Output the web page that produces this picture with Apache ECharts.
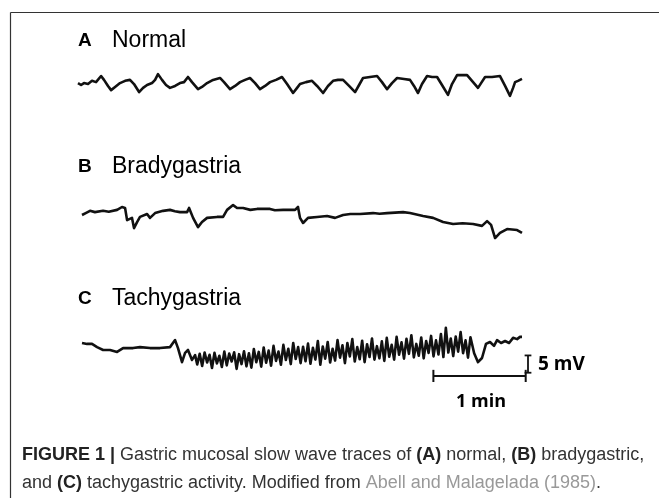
<!DOCTYPE html>
<html><head><meta charset="utf-8">
<script src="https://cdn.jsdelivr.net/npm/echarts@6/dist/echarts.min.js"></script>
<style>html,body{margin:0;padding:0;background:#fff;}#c{width:659px;height:498px;}</style>
</head><body><div id="c"></div>
<script>
// Panel titles
const panelLetters = ['A', 'B', 'C'];
const panelNames = ['Normal', 'Bradygastria', 'Tachygastria'];

// Trace A (normal): [time s, mV]
const traceA = [[0,0.6],[2.0,0],[3.9,0.6],[6.5,0.3],[9.1,1.3],[11.7,0.9],[15.0,2.8],[16.9,1.6],[19.5,-0.3],[21.5,-1.6],[24.1,-0.6],[27.3,0.6],[30.6,1.3],[33.8,1.6],[36.4,0.3],[39.7,-2.2],[42.3,-0.9],[44.9,0],[48.1,0.6],[50.1,1.6],[52.0,3.4],[54.6,1.6],[57.2,0],[59.8,-0.9],[63.1,-0.3],[66.3,0.6],[68.9,0.9],[71.5,2.5],[74.1,0.9],[78.0,-1.3],[80.6,-0.6],[83.9,0.6],[87.8,1.6],[92.3,2.2],[94.9,0.9],[98.8,-1.3],[102.1,-0.3],[105.3,0.9],[108.6,1.6],[111.8,2.2],[115.1,0.6],[118.3,-1.3],[121.6,-0.3],[124.8,0.9],[128.7,1.6],[132.6,2.5],[135.9,0.3],[139.8,-2.5],[142.4,-0.9],[144.3,0.3],[148.2,0.9],[152.1,1.3],[155.4,-0.3],[159.3,-2.5],[162.5,-0.3],[165.8,1.3],[169.0,1.6],[172.3,1.6],[176.2,-0.3],[180.1,-2.2],[182.7,0],[185.3,2.2],[189.8,2.5],[194.4,2.8],[197.6,0.9],[200.9,-1.3],[204.1,0.6],[207.4,2.2],[211.9,1.9],[215.8,1.6],[218.4,-0.3],[221.0,-2.5],[223.6,0.3],[226.9,2.8],[230.1,2.5],[233.4,2.5],[236.6,0],[240.5,-3.1],[243.1,0.3],[246.4,3.1],[249.6,3.1],[252.9,3.1],[256.1,1.3],[260.0,-0.9],[262.0,0.6],[264.6,2.5],[269.1,2.5],[274.3,2.8],[277.6,-0.3],[280.8,-3.4],[282.8,-0.9],[284.1,0.9],[286.0,1.3],[288.6,1.9]];

// Trace B (bradygastria): [time s, mV]
const traceB = [[2.6,0],[5.0,0.6],[7.8,1.3],[11.0,0.9],[16.3,1.3],[20.0,1.0],[25.4,1.6],[28.6,2.5],[30.6,2.2],[31.9,-1.6],[35.1,-0.9],[36.4,-4.1],[38.4,-2.2],[40.3,-0.6],[44.9,0.3],[46.8,-0.9],[50.1,0.6],[55.3,1.3],[59.8,1.6],[63.0,1.2],[66.3,0.9],[70.9,0.9],[72.2,2.2],[74.8,-0.9],[78.0,-3.8],[80.6,-2.2],[83.9,-0.9],[90.4,-0.6],[94.3,-0.6],[96.9,1.6],[100.8,3.1],[103.4,2.2],[107.3,2.2],[112.0,1.6],[116.4,1.9],[124.8,1.9],[128.0,1.5],[133.3,1.6],[141.1,1.6],[143.0,2.5],[144.3,-0.9],[146.3,-2.5],[149.5,-0.9],[155.4,-0.6],[161.9,-0.3],[167.1,-0.9],[172.3,0],[177.0,0.3],[183.3,0.3],[191.8,0.6],[196.0,0.4],[200.9,0.6],[211.3,0.9],[215.8,0.6],[224.3,-0.3],[230.8,-0.9],[237.3,-2.2],[243.8,-2.8],[250.0,-2.6],[256.8,-2.8],[262.6,-3.4],[265.9,-1.9],[268.5,-3.1],[271.1,-7.2],[274.3,-5.6],[278.9,-4.4],[285.4,-4.7],[288.6,-5.6]];

// Trace C (tachygastria): [time s, mV]
const traceC = [[2.6,2.2],[5.9,1.9],[9.1,1.9],[12.4,0.9],[16.3,0],[20.8,0],[25.4,-0.6],[29.3,0.6],[35.8,0.6],[40.3,0.9],[46.8,0.6],[53.3,0.6],[59.8,0.9],[63.1,3.1],[65.0,0.6],[67.6,-3.8],[69.6,-0.9],[71.5,0],[74.1,-3.1],[76.1,-1.6],
[77.5,-4.5],[79.1,-1.2],[80.7,-5.0],[82.3,-0.8],[83.9,-3.9],[85.5,-1.5],[87.1,-5.6],[88.7,-0.9],[90.3,-4.2],[91.9,-1.8],[93.5,-5.3],[95.1,-0.5],[96.7,-4.8],[98.3,-1.1],[99.9,-3.6],[101.5,-0.7],[103.1,-5.9],[104.7,-1.3],[106.3,-4.4],[107.9,-0.4],[109.5,-5.1],
[111.1,-1.0],[112.7,-5.5],[114.3,0.3],[115.9,-3.8],[117.5,-0.6],[119.1,-5.2],[120.7,0.8],[122.3,-4.0],[123.9,-0.2],[125.5,-4.9],[127.1,1.3],[128.7,-3.4],[130.3,-0.5],[131.9,-4.6],[133.5,1.6],[135.1,-3.1],[136.7,0.4],[138.3,-4.4],[139.9,2.2],[141.5,-2.8],[143.1,0.9],[144.7,-4.1],[146.3,1.0],[147.9,-3.5],
[149.5,2.0],[151.1,-4.3],[152.7,0.7],[154.3,-3.0],[155.9,2.8],[157.5,-4.6],[159.1,1.1],[160.7,-2.7],[162.3,2.5],[163.9,-3.9],[165.5,0.4],[167.1,-3.3],[168.7,3.1],[170.3,-2.4],[171.9,1.5],[173.5,-4.1],[175.1,2.2],[176.7,-2.0],[178.3,3.4],[179.9,-3.6],[181.5,0.9],[183.1,-2.9],[184.7,2.9],[186.3,-3.8],[187.9,1.8],[189.5,-2.2],[191.1,3.6],[192.7,-3.0],[194.3,1.2],[195.9,-2.6],[197.5,2.7],[199.1,-3.4],
[200.7,3.8],[202.3,-2.1],[203.9,1.6],[205.5,-3.0],[207.1,4.1],[208.7,-1.5],[210.3,2.4],[211.9,-2.7],[213.5,3.5],[215.1,-1.2],[216.7,4.6],[218.3,-2.3],[219.9,1.9],[221.5,-1.8],[223.1,3.9],[224.7,-2.6],[226.3,2.8],[227.9,-0.9],[229.5,4.4],[231.1,-2.0],[232.7,3.0],[234.3,-1.4],[235.9,5.0],[237.5,-2.2],[239.1,6.9],[240.7,-0.8],[242.3,3.6],[243.9,-1.9],[245.5,4.2],[247.1,-0.5],[248.7,5.6],[250.3,-1.0],[251.9,3.0],[253.5,-2.4],[255.1,4.0],
[257.5,-1.0],[260.0,-3.8],[262.6,-2.5],[265.2,1.9],[267.8,2.5],[270.4,1.3],[272.4,3.1],[275.0,2.2],[277.6,2.8],[280.2,2.2],[282.8,3.8],[285.4,3.4],[287.3,4.1],[288.6,4.1]];

// Scale bars (drawn in panel C units)
const timeBar = [231, 291];       // 1 min
const timeBarLevel = -8.1;        // mV position of the time bar
const voltBarTime = 292.5;        // s position of the voltage bar
const voltBar = [-1.7, -7.1];     // 5 mV
const scaleLabels = ['5 mV', '1 min'];

// Caption
const captionBold = 'FIGURE 1 |';

const chart = echarts.init(document.getElementById('c'), null, {renderer: 'canvas'});

const gridTops = [45, 175, 310];
const grids = gridTops.map(t => ({left: 78, width: 460, top: t, height: 80}));
const xAxes = grids.map((g, i) => ({gridIndex: i, type: 'value', min: 0, max: 299, show: false}));
const yAxes = grids.map((g, i) => ({gridIndex: i, type: 'value', min: -12.5, max: 12.5, show: false}));

const traceStyle = {color: '#111', width: 2.6, join: 'round'};
function lineSeries(data, idx, style) {
  return {type: 'line', data: data, xAxisIndex: idx, yAxisIndex: idx, showSymbol: false,
    symbol: 'none', lineStyle: style, animation: false, clip: false, silent: true, z: 3};
}
const barStyle = {color: '#111', width: 1.8};
const capHalf = 2.2, tickHalf = 1.9;
const series = [
  lineSeries(traceA, 0, traceStyle),
  lineSeries(traceB, 1, traceStyle),
  lineSeries(traceC, 2, traceStyle),
  lineSeries([[timeBar[0], timeBarLevel], [timeBar[1], timeBarLevel]], 2, {color: '#111', width: 2}),
  lineSeries([[timeBar[0], timeBarLevel - tickHalf], [timeBar[0], timeBarLevel + tickHalf]], 2, {color: '#111', width: 2}),
  lineSeries([[timeBar[1], timeBarLevel - tickHalf], [timeBar[1], timeBarLevel + tickHalf]], 2, {color: '#111', width: 2}),
  lineSeries([[voltBarTime, voltBar[0]], [voltBarTime, voltBar[1]]], 2, barStyle),
  lineSeries([[voltBarTime - capHalf, voltBar[0]], [voltBarTime + capHalf, voltBar[0]]], 2, barStyle),
  lineSeries([[voltBarTime - capHalf, voltBar[1]], [voltBarTime + capHalf, voltBar[1]]], 2, barStyle)
];

const labelY = [41, 167, 299];
const graphics = [
  {type: 'line', shape: {x1: 10.5, y1: 12.5, x2: 659, y2: 12.5}, style: {stroke: '#333', lineWidth: 1.2}},
  {type: 'line', shape: {x1: 10.5, y1: 12.5, x2: 10.5, y2: 498}, style: {stroke: '#333', lineWidth: 1.2}}
];
panelLetters.forEach((L, i) => {
  graphics.push({type: 'text', x: 78, y: labelY[i], style: {text: L, font: 'bold 19px "Liberation Sans", Arial', fill: '#000', textVerticalAlign: 'middle'}});
  graphics.push({type: 'text', x: 112, y: labelY[i], style: {text: panelNames[i], font: '23px "Liberation Sans", Arial', fill: '#000', textVerticalAlign: 'middle'}});
});
graphics.push({type: 'text', x: 538, y: 365, style: {text: scaleLabels[0], font: 'bold 19px "Open Sans", "Liberation Sans"', fill: '#000', textVerticalAlign: 'middle'}});
graphics.push({type: 'text', x: 481, y: 402, style: {text: scaleLabels[1], font: 'bold 18px "Open Sans", "Liberation Sans"', fill: '#000', textAlign: 'center', textVerticalAlign: 'middle'}});

graphics.push({type: 'text', x: 22, y: 455, style: {
  text: '{b|' + captionBold + '} Gastric mucosal slow wave traces of {b|(A)} normal, {b|(B)} bradygastric,',
  font: '18px "Liberation Sans"', fill: '#333', textVerticalAlign: 'middle',
  rich: {b: {font: 'bold 18px "Liberation Sans"', fill: '#222'}}
}});
graphics.push({type: 'text', x: 22, y: 483, style: {
  text: 'and {b|(C)} tachygastric activity. Modified from {g|Abell and Malagelada (1985)}.',
  font: '18px "Liberation Sans"', fill: '#333', textVerticalAlign: 'middle',
  rich: {b: {font: 'bold 18px "Liberation Sans"', fill: '#222'}, g: {font: '18px "Liberation Sans"', fill: '#999'}}
}});

chart.setOption({
  backgroundColor: '#fff',
  animation: false,
  grid: grids, xAxis: xAxes, yAxis: yAxes,
  series: series,
  graphic: graphics
});
</script></body></html>
